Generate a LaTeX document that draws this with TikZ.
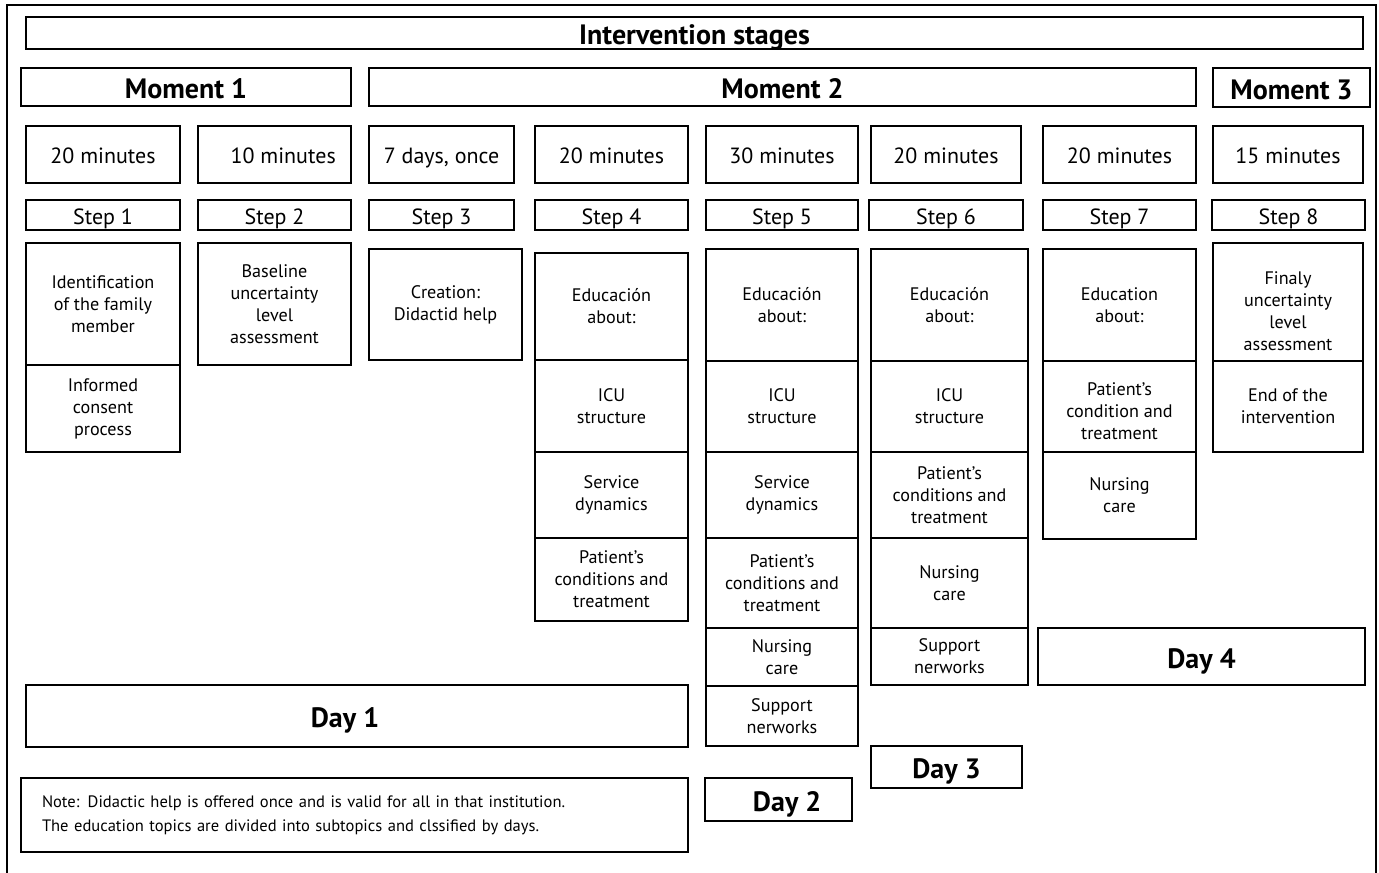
\documentclass[tikz,border=0pt]{standalone}
\usepackage{fontspec}
\setmainfont{PT Sans}
\newcommand\ct[1]{\raisebox{0pt}[0.85em][0pt]{#1}}
\begin{document}
\begin{tikzpicture}[x=0.75pt,y=-0.75pt,
  box/.style={draw=black, line width=1.4pt, rectangle, inner sep=0pt, align=center,
    font=\fontsize{13.6}{16.5}\selectfont},
  dur/.style={box, font=\fontsize{16.5}{19}\selectfont},
  head/.style={box, font=\fontsize{21}{24}\selectfont\bfseries},
  frame/.style={draw=black, line width=0.9pt}]
\useasboundingbox (0,0) rectangle (1379,873);
\clip (0,0) rectangle (1379,873);
\newcommand\bx[7][box]{\node[#1, minimum width={(#4-#2)*0.75pt}, minimum height={(#5-#3)*0.75pt}] (#2x#3) at ({(#2+#4)/2},{(#3+#5)/2}) {#6};}
\draw[frame] (7,885) -- (7,5) -- (1376,5) -- (1376,885);
% header rows
\bx[head]{26}{17}{1363}{49}{\ct{Intervention stages}}{}
\bx[head]{21}{68}{351}{106}{\ct{Moment 1}}{}
\bx[head]{369}{68}{1196}{106}{\ct{Moment 2}}{}
\bx[head]{1213}{68}{1370}{107}{\ct{Moment 3}}{}
% durations
\bx[dur]{26}{126}{180}{183}{\ct{20 minutes}}{}
\bx[dur]{198}{126}{351}{183}{\ct{\hspace{13pt}10 minutes}}{}
\bx[dur]{369}{126}{514}{183}{\ct{7 days, once}}{}
\bx[dur]{535}{126}{688}{183}{\ct{20 minutes}}{}
\bx[dur]{706}{126}{858}{183}{\ct{30 minutes}}{}
\bx[dur]{871}{126}{1021}{183}{\ct{20 minutes}}{}
\bx[dur]{1043}{126}{1196}{183}{\ct{20 minutes}}{}
\bx[dur]{1213}{126}{1363}{183}{\ct{15 minutes}}{}
% steps
\bx[dur]{26}{200}{180}{230}{\ct{Step 1}}{}
\bx[dur]{198}{200}{351}{230}{\ct{Step 2}}{}
\bx[dur]{369}{200}{514}{230}{\ct{Step 3}}{}
\bx[dur]{535}{200}{688}{230}{\ct{Step 4}}{}
\bx[dur]{706}{200}{858}{230}{\ct{Step 5}}{}
\bx[dur]{869}{200}{1023}{230}{\ct{Step 6}}{}
\bx[dur]{1043}{200}{1196}{230}{\ct{Step 7}}{}
\bx[dur]{1212}{200}{1365}{230}{\ct{Step 8}}{}
% step 1
\bx{26}{243}{180}{365}{Identification\\of the family\\member}{}
\bx{26}{365}{180}{452}{Informed\\consent\\process}{}
% step 2
\bx{198}{243}{351}{365}{Baseline\\uncertainty\\level\\assessment}{}
% step 3
\bx{369}{249}{522}{360}{Creation:\\Didactid help}{}
% step 4
\bx{535}{253}{688}{360}{Educación\\about:}{}
\bx{535}{360}{688}{452}{ICU\\structure}{}
\bx{535}{452}{688}{538}{Service\\dynamics}{}
\bx{535}{538}{688}{621}{Patient’s\\conditions and\\treatment}{}
% step 5
\bx{706}{249}{858}{361}{Educación\\about:}{}
\bx{706}{361}{858}{452}{ICU\\structure}{}
\bx{706}{452}{858}{538}{Service\\dynamics}{}
\bx{706}{538}{858}{628}{Patient’s\\conditions and\\treatment}{}
\bx{706}{628}{858}{686}{Nursing\\care}{}
\bx{706}{686}{858}{746}{Support\\nerworks}{}
% step 6
\bx{871}{249}{1028}{361}{Educación\\about:}{}
\bx{871}{361}{1028}{452}{ICU\\structure}{}
\bx{871}{452}{1028}{538}{Patient’s\\conditions and\\treatment}{}
\bx{871}{538}{1028}{628}{Nursing\\care}{}
\bx{871}{628}{1028}{685}{Support\\nerworks}{}
% step 7
\bx{1043}{249}{1196}{361}{Education\\about:}{}
\bx{1043}{361}{1196}{452}{\rule{0pt}{16pt}Patient’s\\condition and\\treatment}{}
\bx{1043}{452}{1196}{539}{Nursing\\care}{}
% step 8
\bx{1213}{243}{1363}{361}{\rule{0pt}{23pt}Finaly\\uncertainty\\level\\assessment}{}
\bx{1213}{361}{1363}{452}{End of the\\intervention}{}
% days
\bx[head]{26}{685}{688}{747}{\ct{Day 1\hspace{18pt}}}{}
\bx[head]{705}{778}{852}{821}{\ct{\hspace{13pt}Day 2}}{}
\bx[head]{871}{746}{1022}{788}{\ct{Day 3}}{}
\bx[head]{1038}{628}{1365}{685}{\ct{Day 4}}{}
% note
\node[box, font=\fontsize{12.4}{18}\selectfont, align=left, text width=468.75pt,
  inner xsep=15.75pt, minimum height={74*0.75pt}] (note) at (354.5,815)
  {Note: Didactic help is offered once and is valid for all in that institution.\\
   The education topics are divided into subtopics and clssified by days.};
\end{tikzpicture}
\end{document}
